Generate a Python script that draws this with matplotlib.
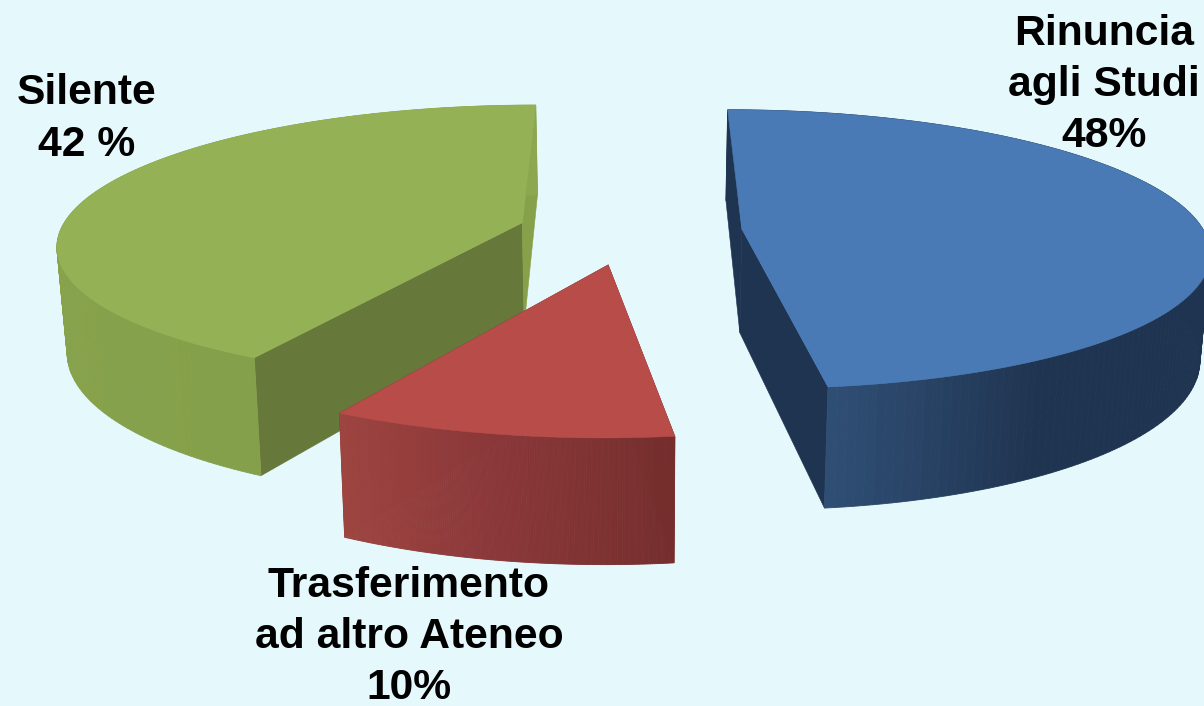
import numpy as np
import matplotlib
matplotlib.use("Agg")
import matplotlib.pyplot as plt
from matplotlib.colors import LinearSegmentedColormap as LSC

# ---- data ----
values = [48, 10, 42]
labels = ["Rinuncia\nagli Studi\n48%", "Trasferimento\nad altro Ateneo\n10%", "Silente\n42 %"]

# ---- style ----
BG = "#e5f8fc"
top_cols = ["#4a7ab5", "#b84c49", "#95b155"]
rim_stops = [
    [(0, "#1f3450"), (0.86, "#1f3450"), (1, "#2f4e74")],
    [(0, "#752e2d"), (0.5, "#8a3739"), (1, "#9e4541")],
    [(0, "#85a04a"), (1, "#8da750")],
]
face_start = ["#1f3450", "#752e2d", "#66783a"]
face_end = ["#1f3450", "#752e2d", "#87a04a"]
draw_order = [2, 0, 1]
label_xy = [(1104, 85), (409, 637), (87, 119)]

START = 0.0
EXPLODE = 0.243
CX, CY, A, B, K, H, G = 630, 231, 462, 137, 0.145, 104, 0.018


def project(X, Y, z=0.0):
    w = 1 - K * Y
    s = 1 - G * z
    return CX + A * X / w * s, CY + B * Y / w + H * z / w


fig = plt.figure(figsize=(12.04, 7.06), dpi=100, facecolor=BG)
ax = fig.add_axes([0, 0, 1, 1])
ax.set_xlim(0, 1204)
ax.set_ylim(706, 0)
ax.axis("off")

total = sum(values)
spans = [v / total * 360 for v in values]
starts = START + np.concatenate([[0], np.cumsum(spans)[:-1]])

for i in draw_order:
    a0, a1 = starts[i], starts[i] + spans[i]
    mid = np.radians((a0 + a1) / 2)
    ox, oy = EXPLODE * np.sin(mid), -EXPLODE * np.cos(mid)
    th = np.radians(np.linspace(a0, a1, 161))
    X = ox + np.sin(th)
    Y = oy - np.cos(th)
    cmap = LSC.from_list("rim", rim_stops[i])
    tx, ty = project(X, Y)
    bx, by = project(X, Y, 1.0)
    z = draw_order.index(i) * 10
    # radial faces
    ap_t = project(ox, oy)
    ap_b = project(ox, oy, 1.0)
    ax.fill([ap_t[0], tx[0], bx[0], ap_b[0]], [ap_t[1], ty[0], by[0], ap_b[1]],
            color=face_start[i], lw=0.4, zorder=z + 1)
    ax.fill([ap_t[0], tx[-1], bx[-1], ap_b[0]], [ap_t[1], ty[-1], by[-1], ap_b[1]],
            color=face_end[i], lw=0.4, zorder=z + 1)
    # outer rim as thin shaded strips
    for j in range(len(th) - 1):
        c = cmap(j / (len(th) - 2))
        ax.fill([tx[j], tx[j + 1], bx[j + 1], bx[j]], [ty[j], ty[j + 1], by[j + 1], by[j]],
                color=c, lw=0.6, zorder=z + 2)
    # top
    ax.fill(np.r_[ap_t[0], tx], np.r_[ap_t[1], ty], color=top_cols[i], lw=0.4, zorder=z + 3)
    ax.text(*label_xy[i], labels[i], ha="center", va="center", fontsize=30.7,
            fontweight="bold", family="Liberation Sans", color="black",
            linespacing=1.37, zorder=100)

fig.savefig("out.png", dpi=100, facecolor=BG)
